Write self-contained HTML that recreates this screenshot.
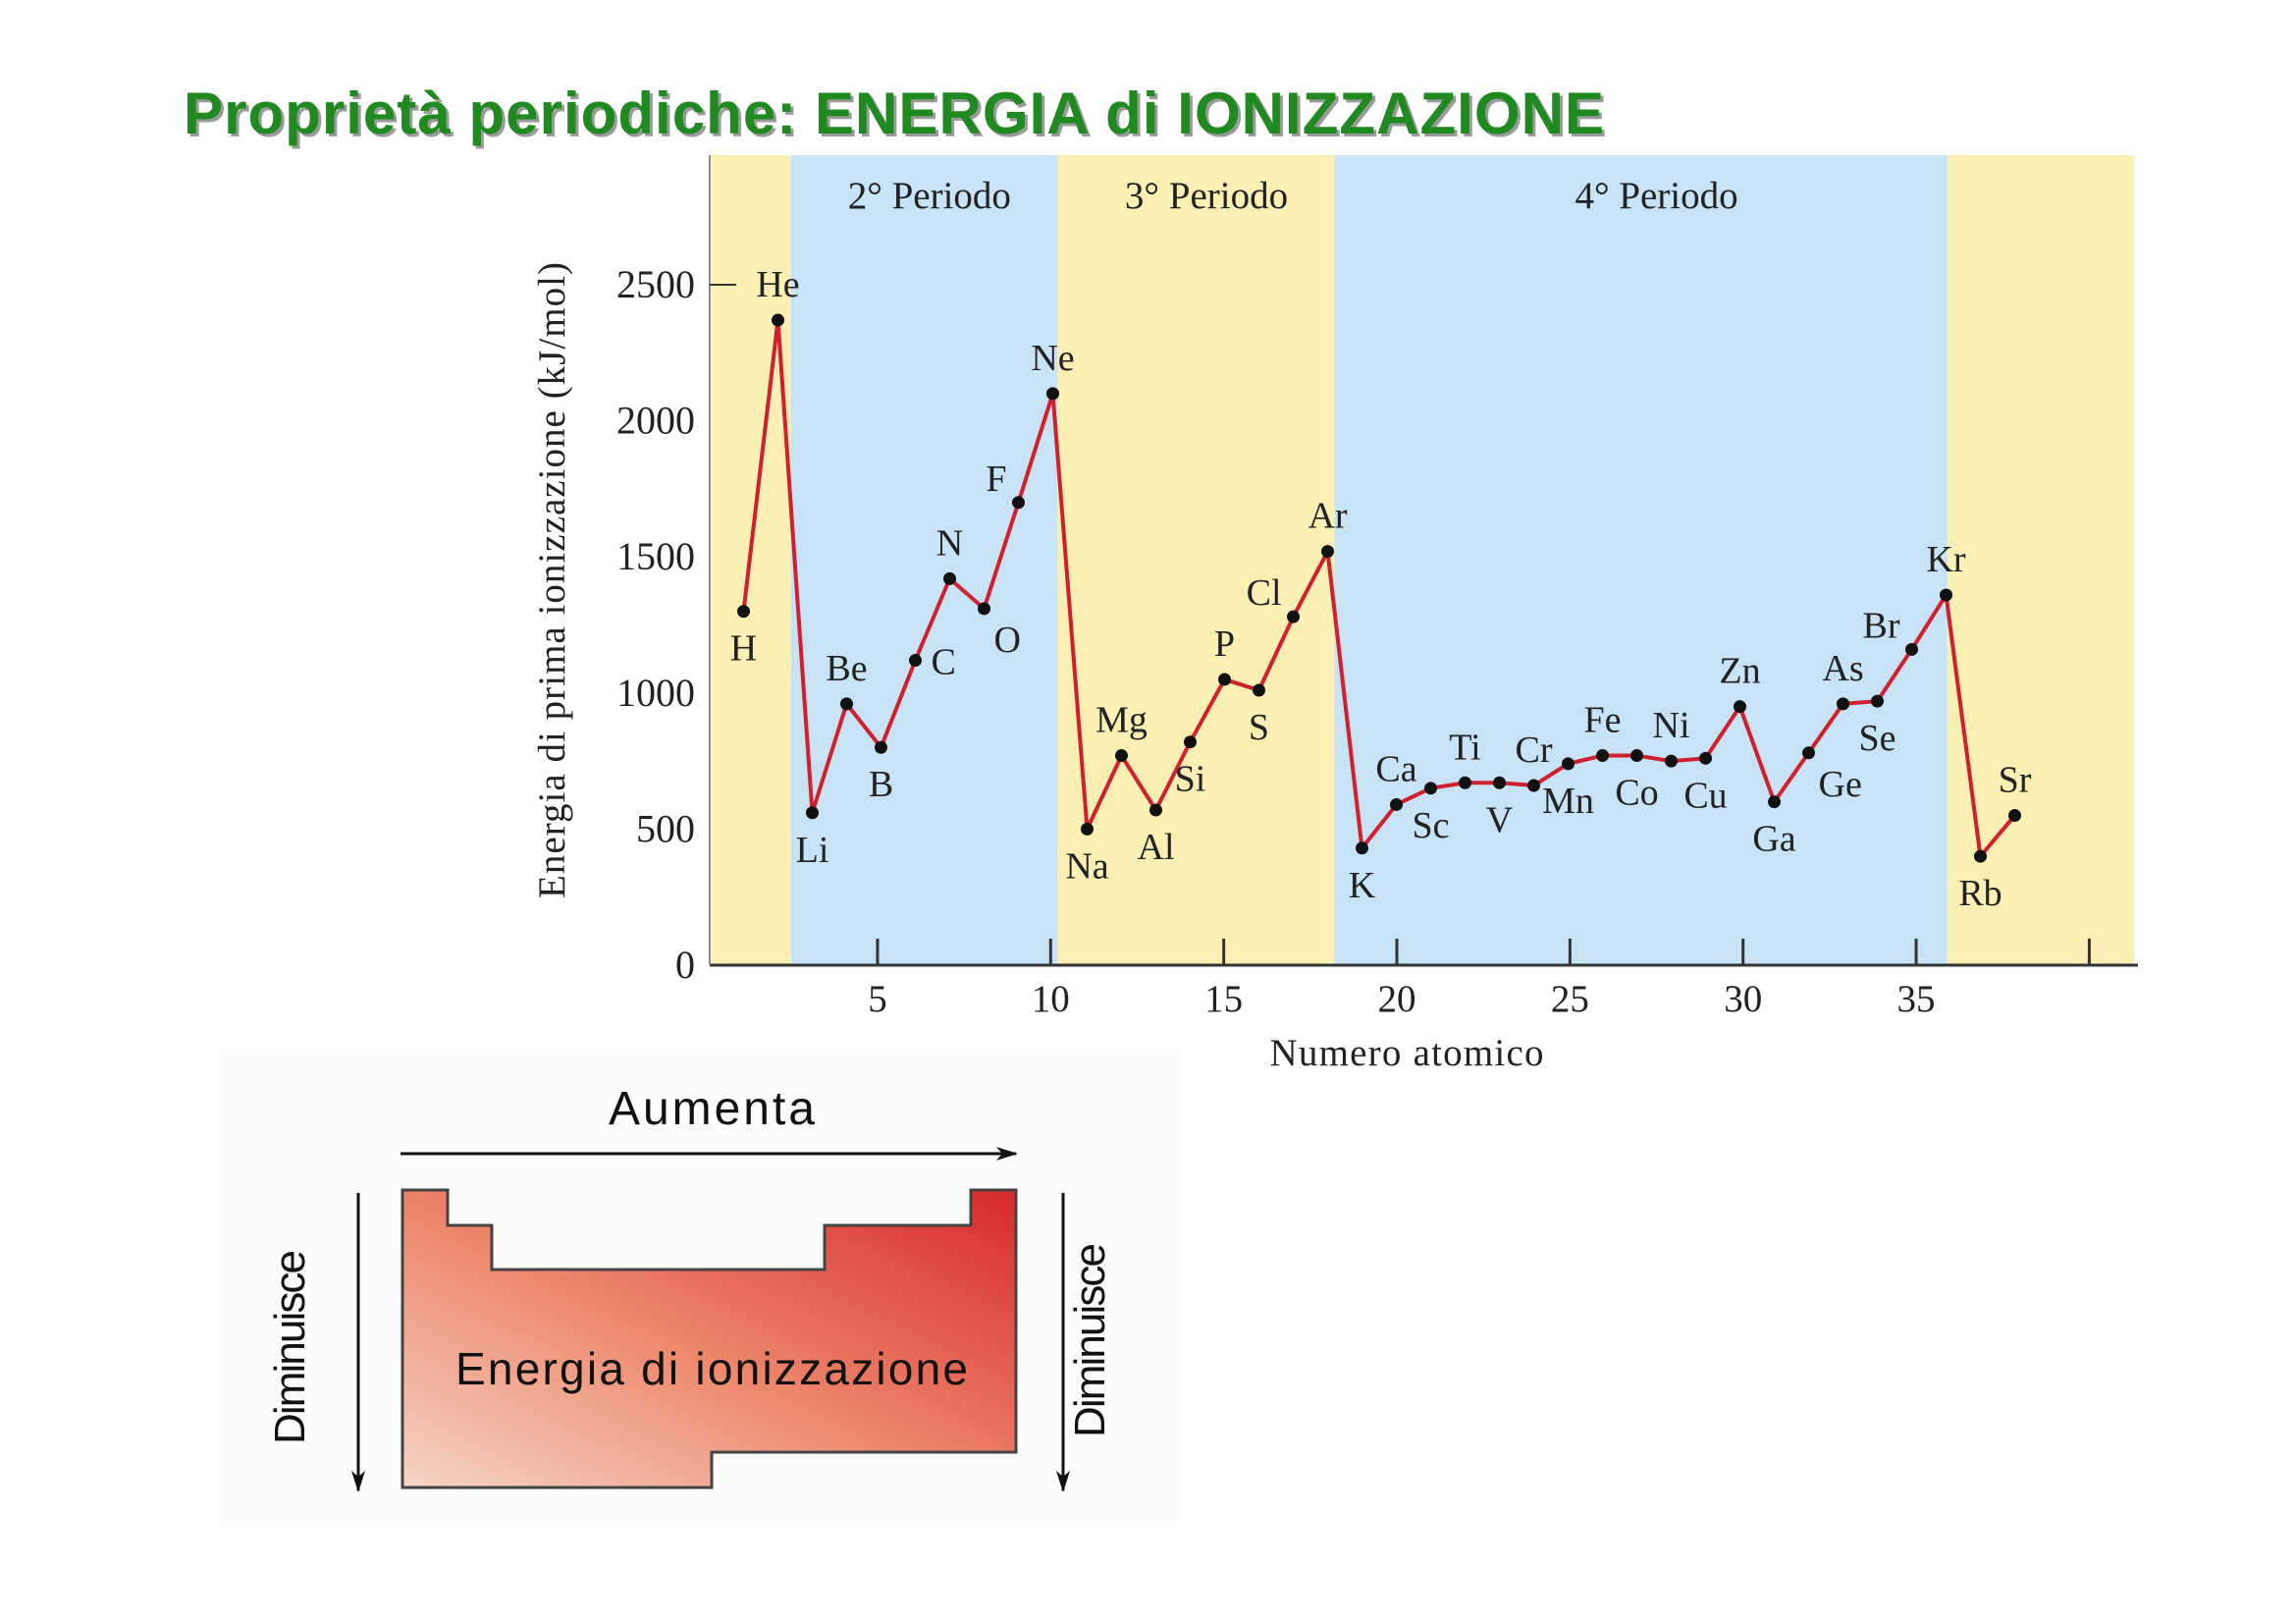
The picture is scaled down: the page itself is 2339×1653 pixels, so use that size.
<!DOCTYPE html>
<html><head><meta charset="utf-8"><style>
html,body{margin:0;padding:0;background:#fff;width:2339px;height:1653px;overflow:hidden}
svg{display:block}
.serif{font-family:"Liberation Serif",serif;fill:#222}
.sans{font-family:"Liberation Sans",sans-serif}
</style></head><body>
<svg id="root" width="2339" height="1653" viewBox="0 0 2339 1653" xmlns="http://www.w3.org/2000/svg">
<defs>
<linearGradient id="tg" x1="0" y1="1" x2="1" y2="0">
<stop offset="0" stop-color="#f6d4c6"/><stop offset="0.45" stop-color="#ee8a6e"/><stop offset="1" stop-color="#d8282a"/>
</linearGradient>
<marker id="ah" markerWidth="22" markerHeight="14" refX="20" refY="7" orient="auto" markerUnits="userSpaceOnUse" viewBox="0 0 22 14">
<path d="M0,0 L22,7 L0,14 L6,7 Z" fill="#111"/></marker>
</defs>
<text x="190" y="139" class="sans" font-size="60" font-weight="bold" fill="#9a9a9a" textLength="1447">Proprietà periodiche: ENERGIA di IONIZZAZIONE</text>
<text x="187" y="136" class="sans" font-size="60" font-weight="bold" fill="#1f8a1f" textLength="1447">Proprietà periodiche: ENERGIA di IONIZZAZIONE</text>
<g id="chart"></g>
<g>
<rect x="225" y="1068" width="975" height="485" fill="#fcfcfc"/>
<text x="725" y="1145" text-anchor="middle" class="sans" font-size="48" fill="#111" textLength="210">Aumenta</text>
<line x1="408" y1="1175" x2="1035" y2="1175" stroke="#111" stroke-width="3" marker-end="url(#ah)"/>
<path d="M410,1212 L456,1212 L456,1248 L501,1248 L501,1293 L840,1293 L840,1248 L989,1248 L989,1212 L1035,1212 L1035,1479 L725,1479 L725,1515 L410,1515 Z" fill="url(#tg)" stroke="#444" stroke-width="3"/>
<text x="725" y="1410" text-anchor="middle" class="sans" font-size="46" fill="#111" textLength="522">Energia di ionizzazione</text>
<line x1="365" y1="1215" x2="365" y2="1518" stroke="#111" stroke-width="3" marker-end="url(#ah)"/>
<text transform="translate(310,1372) rotate(-90)" text-anchor="middle" class="sans" font-size="44" fill="#111" textLength="198">Diminuisce</text>
<line x1="1083" y1="1215" x2="1083" y2="1518" stroke="#111" stroke-width="3" marker-end="url(#ah)"/>
<text transform="translate(1125,1365) rotate(-90)" text-anchor="middle" class="sans" font-size="44" fill="#111" textLength="198">Diminuisce</text>
</g>
</svg>
<script>
const symbols=["H","He","Li","Be","B","C","N","O","F","Ne","Na","Mg","Al","Si","P","S","Cl","Ar","K","Ca","Sc","Ti","V","Cr","Mn","Fe","Co","Ni","Cu","Zn","Ga","Ge","As","Se","Br","Kr","Rb","Sr"];
const energies=[1300,2370,560,960,800,1120,1420,1310,1700,2100,500,770,570,820,1050,1010,1280,1520,430,590,650,670,670,660,740,770,770,750,760,950,600,780,960,970,1160,1360,400,550];
const labelSides=["b","a","b","a","b","r","a","br","l","a","b","a","b","b","a","b","l","a","b","a","b","a","b","a","b","a","b","a","b","a","b","br","a","b","l","a","b","a"];
const yTicks=[0,500,1000,1500,2000,2500];
const xTicks=[5,10,15,20,25,30,35,40];
const xTickLabels=["5","10","15","20","25","30","35",""];
const periodNames=["2° Periodo","3° Periodo","4° Periodo"];
const periodCenters=[6.5,14.5,27.5];
const bandEdges=[0.2,2.5,10.2,18.2,35.9,41.3];

const NS="http://www.w3.org/2000/svg";
const g=document.getElementById('chart');
const L=723,R=2178,T=158,B=983;
const X=n=>722.5+35.0*n;
const XT=n=>717.6+35.27*n;
const Y=v=>B-0.2772*v;
function el(t,a,p){const e=document.createElementNS(NS,t);for(const k in a)e.setAttribute(k,a[k]);(p||g).appendChild(e);return e;}

for(let i=0;i<bandEdges.length-1;i++){
  const x0=Math.max(L,XT(bandEdges[i])),x1=Math.min(R,XT(bandEdges[i+1]));
  const r=el('rect',{x:x0,y:T,width:x1-x0,height:B-T,fill:i%2?'#c8e2f6':'#fbefb4'});
  
  
}
periodNames.forEach((p,i)=>{
  const t=el('text',{x:XT(periodCenters[i]),y:212,'text-anchor':'middle',class:'serif','font-size':39});
  t.textContent=p;
  
  
});
const ax=el('line',{x1:L,y1:B,x2:R,y2:B,stroke:'#333','stroke-width':3});


const ay=el('line',{x1:L,y1:T,x2:L,y2:B,stroke:'#888','stroke-width':2});


yTicks.forEach(v=>{
  const t=el('text',{x:708,y:Y(v)+13,'text-anchor':'end',class:'serif','font-size':40});
  t.textContent=v;
  
  
});
const tk=el('line',{x1:L,y1:Y(2500),x2:L+27,y2:Y(2500),stroke:'#333','stroke-width':2});


xTicks.forEach((n,i)=>{
  const xx=XT(n);
  const m=el('line',{x1:xx,y1:B,x2:xx,y2:B-27,stroke:'#333','stroke-width':3});
  
  
  const t=el('text',{x:xx,y:B+47,'text-anchor':'middle',class:'serif','font-size':39});
  t.textContent=xTickLabels[i];
  
  
});
const yt=el('text',{transform:'translate(575,591) rotate(-90)','text-anchor':'middle',class:'serif','font-size':39,textLength:648});
yt.textContent='Energia di prima ionizzazione (kJ/mol)';


const xt=el('text',{x:1433,y:1085,'text-anchor':'middle',class:'serif','font-size':39,textLength:279});
xt.textContent='Numero atomico';



const pts=energies.map((v,i)=>X(i+1)+','+Y(v)).join(' ');
const line=el('polyline',{points:pts,fill:'none',stroke:'#d0202e','stroke-width':4,'stroke-linejoin':'round'});


energies.forEach((v,i)=>{
  const c=el('circle',{cx:X(i+1),cy:Y(v),r:6.5,fill:'#111'});
  
  
  const s=labelSides[i];let dx=0,dy=0,anc='middle';
  if(s==='a'){dy=-24;}else if(s==='b'){dy=50;}else if(s==='r'){dx=16;dy=14;anc='start';}
  else if(s==='l'){dx=-12;dy=-12;anc='end';}else if(s==='br'){dx=10;dy=44;anc='start';}
  const t=el('text',{x:X(i+1)+dx,y:Y(v)+dy,'text-anchor':anc,class:'serif','font-size':38});
  t.textContent=symbols[i];
  
  
});
</script>
</body></html>
